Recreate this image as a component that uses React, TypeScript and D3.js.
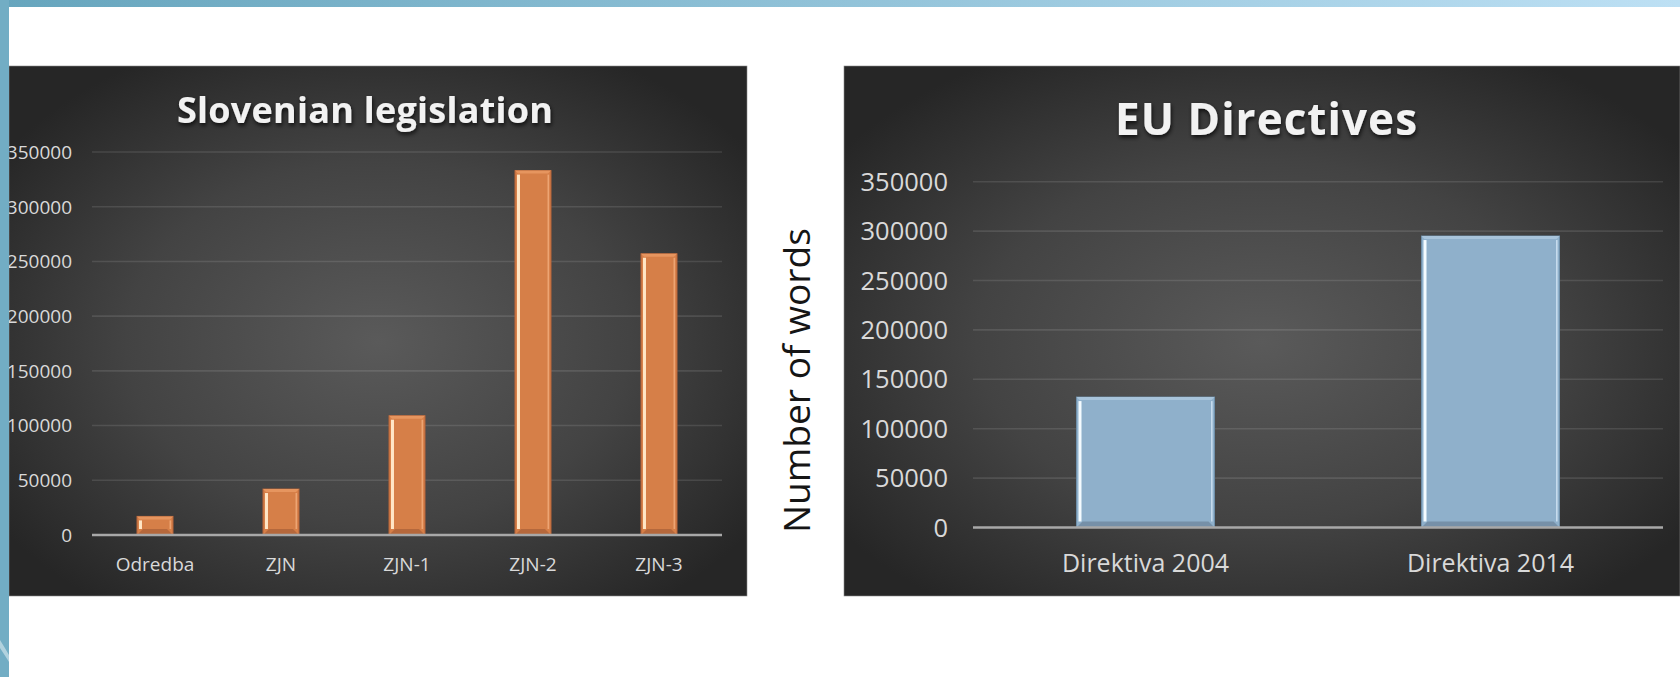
import { useRef, useEffect } from "react"
import * as d3 from "d3"

const sloCategories = ["Odredba", "ZJN", "ZJN-1", "ZJN-2", "ZJN-3"]
const sloWords = [17000, 42000, 109000, 333000, 257000]
const euCategories = ["Direktiva 2004", "Direktiva 2014"]
const euWords = [132000, 295000]
const yTicks = [0, 50000, 100000, 150000, 200000, 250000, 300000, 350000]
const yMax = 350000

const fontFamily = "'Open Sans', 'DejaVu Sans', sans-serif"

const barStyles = {
  orange: { fill: "#d67f48", stroke: "#b3643a", hiL: "#ffe6c6", hiR: "#f3ae7e", top: "#e6955f", bottom: "#b5683c" },
  blue: { fill: "#8fb0cb", stroke: "#6f8fa9", hiL: "#f4fbff", hiR: "#d3e6f5", top: "#a8c4db", bottom: "#7690a8" },
}

export default function App() {
  const svgRef = useRef<SVGSVGElement>(null)

  function drawPanel(svg, defs, p) {
    const [bx, by, bw, bh] = p.box
    const grad = defs
      .append("radialGradient")
      .attr("id", `bg-${p.id}`)
      .attr("cx", "50%")
      .attr("cy", "52%")
      .attr("r", "62%")
    grad.append("stop").attr("offset", "0%").attr("stop-color", "#5a5a5a")
    grad.append("stop").attr("offset", "55%").attr("stop-color", "#434343")
    grad.append("stop").attr("offset", "100%").attr("stop-color", "#262626")

    const g = svg.append("g").attr("id", p.id)
    g.append("rect")
      .attr("x", bx)
      .attr("y", by)
      .attr("width", bw)
      .attr("height", bh)
      .attr("fill", `url(#bg-${p.id})`)
      .attr("stroke", "#8a8a8a")
      .attr("stroke-width", 0.6)

    const x = d3.scaleBand().domain(p.categories).range(p.plotX).paddingInner(p.padInner).paddingOuter(p.padOuter)
    const y = d3.scaleLinear().domain([0, yMax]).range(p.plotY)

    // gridlines
    g.append("g")
      .selectAll("line")
      .data(yTicks.filter((d) => d > 0))
      .enter()
      .append("line")
      .attr("x1", p.plotX[0])
      .attr("x2", p.plotX[1])
      .attr("y1", (d) => y(d))
      .attr("y2", (d) => y(d))
      .attr("stroke", "rgba(255,255,255,0.11)")
      .attr("stroke-width", 1.6)

    // tick labels
    g.append("g")
      .selectAll("text")
      .data(yTicks)
      .enter()
      .append("text")
      .text((d) => d)
      .attr("x", p.tickX)
      .attr("y", (d) => y(d))
      .attr("dy", "0.36em")
      .attr("text-anchor", "end")
      .attr("fill", "#d9d9d9")
      .style("font-size", `${p.tickSize}px`)
      .style("font-family", fontFamily)

    // bars
    const st = barStyles[p.bar]
    const bars = g
      .append("g")
      .selectAll("g")
      .data(p.values)
      .enter()
      .append("g")
    bars.each(function (d, i) {
      const el = d3.select(this)
      const x0 = x(p.categories[i])
      const w = x.bandwidth()
      const y0 = y(d)
      const y1 = y(0)
      const h = y1 - y0
      const e = Math.min(6, h / 3)
      el.append("rect").attr("x", x0).attr("y", y0).attr("width", w).attr("height", h)
        .attr("fill", st.fill).attr("stroke", st.stroke).attr("stroke-width", 1)
      el.append("path")
        .attr("d", `M${x0},${y0}L${x0 + w},${y0}L${x0 + w - 3},${y0 + 3}L${x0 + 3},${y0 + 3}Z`)
        .attr("fill", st.top)
      el.append("path")
        .attr("d", `M${x0},${y1}L${x0 + w},${y1}L${x0 + w - e},${y1 - e}L${x0 + e},${y1 - e}Z`)
        .attr("fill", st.bottom)
      el.append("rect").attr("x", x0 + 2).attr("y", y0 + 4).attr("width", 3).attr("height", Math.max(0, h - 4 - e))
        .attr("fill", st.hiL)
      el.append("rect").attr("x", x0 + w - 3.5).attr("y", y0 + 4).attr("width", 1.6).attr("height", Math.max(0, h - 4 - e))
        .attr("fill", st.hiR).attr("opacity", 0.8)
    })

    // baseline
    g.append("line")
      .attr("x1", p.plotX[0])
      .attr("x2", p.plotX[1])
      .attr("y1", y(0))
      .attr("y2", y(0))
      .attr("stroke", "#a8a8a8")
      .attr("stroke-width", 2.5)

    // category labels
    g.append("g")
      .selectAll("text")
      .data(p.categories)
      .enter()
      .append("text")
      .text((d) => d)
      .attr("x", (d) => x(d) + x.bandwidth() / 2)
      .attr("y", p.catY)
      .attr("text-anchor", "middle")
      .attr("fill", "#d9d9d9")
      .style("font-size", `${p.catSize}px`)
      .style("font-family", fontFamily)

    // title
    g.append("text")
      .text(p.title)
      .attr("x", p.titleX)
      .attr("y", p.titleY)
      .attr("text-anchor", "middle")
      .attr("textLength", p.titleWidth)
      .attr("lengthAdjust", "spacing")
      .attr("fill", "#f2f2f2")
      .attr("filter", "url(#titleShadow)")
      .style("font-size", `${p.titleSize}px`)
      .style("font-weight", "bold")
      .style("font-family", fontFamily)
  }

  function drawChart() {
    const svg = d3.select(svgRef.current).attr("width", 1680).attr("height", 677)
    svg.selectAll("*").remove()
    const defs = svg.append("defs")

    const shadow = defs.append("filter").attr("id", "titleShadow").attr("x", "-10%").attr("y", "-30%").attr("width", "120%").attr("height", "170%")
    shadow.append("feDropShadow").attr("dx", 1).attr("dy", 2.5).attr("stdDeviation", 2).attr("flood-color", "#000").attr("flood-opacity", 0.75)

    const stripe = defs.append("linearGradient").attr("id", "stripe")
    stripe.append("stop").attr("offset", "0%").attr("stop-color", "#66a5bd")
    stripe.append("stop").attr("offset", "100%").attr("stop-color", "#bde0f4")

    svg.append("rect").attr("width", 1680).attr("height", 677).attr("fill", "#ffffff")

    drawPanel(svg, defs, {
      id: "slo",
      box: [9, 66, 738, 530],
      title: "Slovenian legislation",
      titleX: 365,
      titleY: 122.7,
      titleSize: 36,
      titleWidth: 376,
      plotX: [92, 722],
      plotY: [535, 152],
      tickX: 72,
      tickSize: 19,
      catY: 571,
      catSize: 19,
      padInner: 0.714,
      padOuter: 0.357,
      categories: sloCategories,
      values: sloWords,
      bar: "orange",
    })

    drawPanel(svg, defs, {
      id: "eu",
      box: [844, 66, 836, 530],
      title: "EU Directives",
      titleX: 1266,
      titleY: 135,
      titleSize: 44,
      titleWidth: 302,
      plotX: [973, 1663],
      plotY: [527.5, 181.7],
      tickX: 948,
      tickSize: 25.5,
      catY: 572.3,
      catSize: 25,
      padInner: 0.6,
      padOuter: 0.3,
      categories: euCategories,
      values: euWords,
      bar: "blue",
    })

    // axis title
    svg.append("text")
      .text("Number of words")
      .attr("transform", "translate(810, 380.5) rotate(-90)")
      .attr("text-anchor", "middle")
      .attr("textLength", 305)
      .attr("lengthAdjust", "spacingAndGlyphs")
      .attr("fill", "#151515")
      .style("font-size", "37px")
      .style("font-family", fontFamily)

    // page decoration
    svg.append("rect").attr("x", 0).attr("y", 0).attr("width", 1680).attr("height", 7).attr("fill", "url(#stripe)")
    svg.append("rect").attr("x", 0).attr("y", 0).attr("width", 9).attr("height", 677).attr("fill", "#72adc4")
    svg.append("path")
      .attr("d", "M0,640 Q5,648 9,655 L9,662 Q4,654 0,648 Z")
      .attr("fill", "#ffffff")
      .attr("opacity", 0.45)
  }

  useEffect(() => {
    drawChart()
  }, [svgRef])

  return (
    <div>
      <svg ref={svgRef} style={{ position: "absolute", left: 0, top: 0 }}></svg>
    </div>
  )
}
